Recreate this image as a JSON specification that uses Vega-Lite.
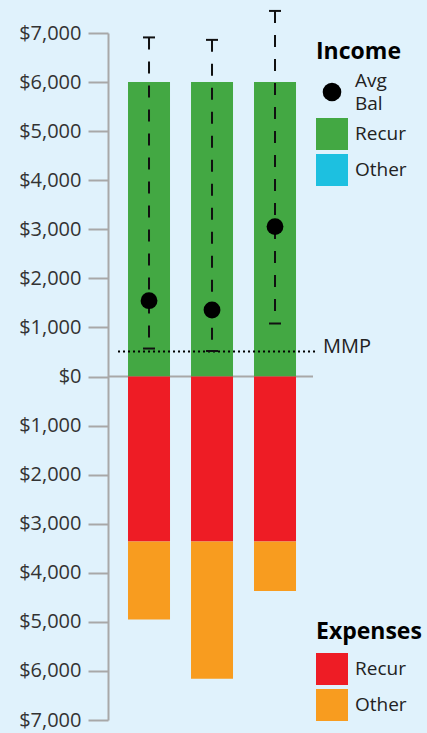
{
  "$schema": "https://vega.github.io/schema/vega-lite/v6.json",
  "width": 205,
  "height": 687,
  "autosize": {"type": "none"},
  "padding": {"left": 108, "top": 33, "right": 114, "bottom": 13},
  "background": "#e0f2fc",
  "config": {"view": {"stroke": null}, "font": "Open Sans"},
  "datasets": {
    "income": [
      {"month": 1, "type": "Recur", "amount": 6000},
      {"month": 2, "type": "Recur", "amount": 6000},
      {"month": 3, "type": "Recur", "amount": 6000}
    ],
    "expenses": [
      {"month": 1, "type": "Recur", "amount": -3360},
      {"month": 1, "type": "Other", "amount": -1590},
      {"month": 2, "type": "Recur", "amount": -3360},
      {"month": 2, "type": "Other", "amount": -2800},
      {"month": 3, "type": "Recur", "amount": -3360},
      {"month": 3, "type": "Other", "amount": -1010}
    ],
    "balance": [
      {"month": 1, "avg": 1545, "low": 570, "high": 6910},
      {"month": 2, "avg": 1355, "low": 520, "high": 6860},
      {"month": 3, "avg": 3055, "low": 1080, "high": 7450}
    ],
    "mmp": [{"label": "MMP", "value": 510}]
  },
  "encoding": {
    "x": {"type": "quantitative", "scale": {"domain": [0.349, 3.603], "nice": false, "zero": false, "padding": 0}, "axis": null}
  },
  "layer": [
    {
      "data": {"values": [{"zero": 0}]},
      "mark": {"type": "rule", "color": "#a8a8a8", "strokeWidth": 2},
      "encoding": {
        "y": {"field": "zero", "type": "quantitative", "scale": {"domain": [-7000, 7000], "nice": false, "padding": 0},
          "axis": {
            "title": null,
            "values": [-7000, -6000, -5000, -4000, -3000, -2000, -1000, 0, 1000, 2000, 3000, 4000, 5000, 6000, 7000],
            "labelExpr": "'$' + format(abs(datum.value), ',')",
            "grid": false,
            "tickSize": 20,
            "tickWidth": 2,
            "tickColor": "#a8a8a8",
            "domainColor": "#a8a8a8",
            "domainWidth": 2,
            "labelFont": "Open Sans",
            "labelFontSize": 20,
            "labelColor": "#333333",
            "labelPadding": 7
          }
        }
      }
    },
    {
      "data": {"name": "income"},
      "mark": {"type": "bar", "size": 42},
      "encoding": {
        "x": {"field": "month", "type": "quantitative"},
        "y": {"field": "amount", "type": "quantitative"},
        "color": {
          "field": "type", "type": "nominal",
          "scale": {"domain": ["Avg Bal", "Recur", "Other"], "range": ["#000000", "#43a843", "#1dc0e0"]},
          "legend": {
            "title": "Income",
            "orient": "none",
            "legendX": 208,
            "legendY": 8,
            "padding": 0,
            "titleFont": "Open Sans",
            "titleFontSize": 23,
            "titleFontWeight": 700,
            "titleColor": "#000000",
            "titlePadding": 12,
            "labelFont": "Open Sans",
            "labelFontSize": 19,
            "labelColor": "#222222",
            "labelOffset": 7,
            "rowPadding": 4,
            "symbolType": "square",
            "symbolSize": 1024,
            "symbolStrokeWidth": 0,
            "labelExpr": "datum.value === 'Avg Bal' ? ['Avg', 'Bal'] : datum.value",
            "encode": {
              "symbols": {"update": {
                "shape": {"signal": "datum.value === 'Avg Bal' ? 'circle' : 'square'"},
                "size": {"signal": "datum.value === 'Avg Bal' ? 346 : 1024"},
                "strokeWidth": {"value": 0}
              }},
              "labels": {"update": {
                "lineHeight": {"value": 23},
                "dy": {"signal": "datum.value === 'Avg Bal' ? -11.5 : 0"}
              }}
            }
          }
        }
      }
    },
    {
      "data": {"name": "expenses"},
      "mark": {"type": "bar", "size": 42},
      "encoding": {
        "x": {"field": "month", "type": "quantitative"},
        "y": {"field": "amount", "type": "quantitative", "stack": "zero"},
        "order": {"field": "type", "sort": "descending"},
        "color": {
          "field": "type", "type": "nominal",
          "scale": {"domain": ["Recur", "Other"], "range": ["#ee1c25", "#f89c1f"]},
          "legend": {
            "title": "Expenses",
            "orient": "none",
            "legendX": 208,
            "legendY": 588,
            "padding": 0,
            "titleFont": "Open Sans",
            "titleFontSize": 23,
            "titleFontWeight": 700,
            "titleColor": "#000000",
            "titlePadding": 9,
            "labelFont": "Open Sans",
            "labelFontSize": 19,
            "labelColor": "#222222",
            "labelOffset": 7,
            "rowPadding": 4,
            "symbolType": "square",
            "symbolSize": 1024,
            "symbolStrokeWidth": 0
          }
        }
      }
    },
    {
      "data": {"name": "mmp"},
      "mark": {"type": "rule", "color": "#000000", "strokeWidth": 2, "strokeDash": [2, 3]},
      "encoding": {
        "x": {"datum": 0.508},
        "x2": {"datum": 3.667},
        "y": {"field": "value", "type": "quantitative"}
      }
    },
    {
      "data": {"name": "mmp"},
      "mark": {"type": "text", "align": "left", "baseline": "alphabetic", "dy": 2, "font": "Open Sans", "fontSize": 20, "color": "#222222"},
      "encoding": {
        "x": {"datum": 3.762},
        "y": {"field": "value", "type": "quantitative"},
        "text": {"field": "label"}
      }
    },
    {
      "data": {"name": "balance"},
      "mark": {"type": "rule", "color": "#111111", "strokeWidth": 2, "strokeDash": [12, 12]},
      "encoding": {
        "x": {"field": "month", "type": "quantitative"},
        "y": {"field": "high", "type": "quantitative"},
        "y2": {"field": "low"}
      }
    },
    {
      "data": {"name": "balance"},
      "mark": {"type": "tick", "orient": "horizontal", "size": 12, "thickness": 2, "color": "#111111", "opacity": 1},
      "encoding": {
        "x": {"field": "month", "type": "quantitative"},
        "y": {"field": "high", "type": "quantitative"}
      }
    },
    {
      "data": {"name": "balance"},
      "mark": {"type": "tick", "orient": "horizontal", "size": 12, "thickness": 2, "color": "#111111", "opacity": 1},
      "encoding": {
        "x": {"field": "month", "type": "quantitative"},
        "y": {"field": "low", "type": "quantitative"}
      }
    },
    {
      "data": {"name": "balance"},
      "mark": {"type": "point", "shape": "circle", "filled": true, "size": 283, "color": "#000000", "opacity": 1},
      "encoding": {
        "x": {"field": "month", "type": "quantitative"},
        "y": {"field": "avg", "type": "quantitative"}
      }
    }
  ],
  "resolve": {"scale": {"color": "independent"}}
}
